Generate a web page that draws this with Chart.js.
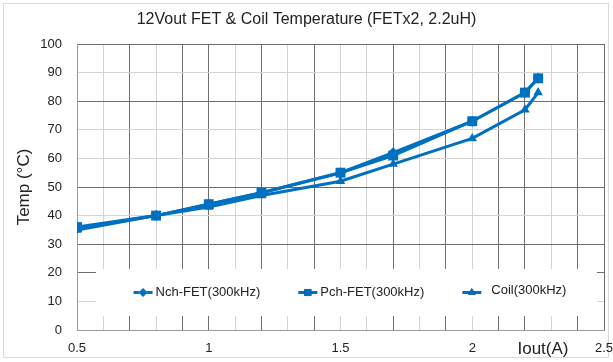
<!DOCTYPE html>
<html>
<head>
<meta charset="utf-8">
<script src="https://cdn.jsdelivr.net/npm/chart.js@4"></script>
<style>
  html, body { margin: 0; padding: 0; background: #fff; }
  #wrap { width: 613px; height: 362px; position: relative; }
</style>
</head>
<body>
<div id="wrap"><canvas id="c"></canvas></div>
<script>
// Iout (A) for every measured point
const iout = [0.5, 0.8, 1.0, 1.2, 1.5, 1.7, 2.0, 2.2, 2.25];
// temperatures (°C)
const nchFet = [35.5, 40, 44, 48, 55, 62, 73, 83, 88];
const pchFet = [36, 40, 44, 48, 55, 61, 73, 83, 88];
const coil = [35, 40, 43, 47, 52, 58, 67, 77, 83];

const seriesNames = ["Nch-FET(300kHz)", "Pch-FET(300kHz)", "Coil(300kHz)"];
const xLabels = ["0.5", "1", "1.5", "2", "2.5"];
const titleText = "12Vout FET & Coil Temperature (FETx2, 2.2uH)";

const blue = "#0070c0";
const dark = "#6e6e6e";
const light = "#d4d4d4";
// the picture's grid lines alternate darker / lighter
const darkX = [7, 9, 10, 12, 14, 17, 19, 21, 22, 24, 25];
const darkY = [20, 30, 50, 80, 100];

function pts(ys) {
  return ys.map((y, i) => ({ x: iout[i], y: y }));
}

const font = "'Liberation Sans', Arial, sans-serif";

const frame = {
  id: "frame",
  beforeDraw(chart) {
    const ctx = chart.ctx;
    ctx.save();
    ctx.fillStyle = "#fff";
    ctx.fillRect(0, 0, chart.width, chart.height);
    ctx.strokeStyle = "#d9d9d9";
    ctx.lineWidth = 1;
    ctx.strokeRect(3.5, 3.5, chart.width - 8, chart.height - 8);
    ctx.restore();
  },
  afterDraw(chart) {
    const ctx = chart.ctx;
    const a = chart.chartArea;
    ctx.save();
    ctx.fillStyle = "#222";
    ctx.textAlign = "center";
    ctx.textBaseline = "middle";
    ctx.font = "16px " + font;
    ctx.fillText(titleText, chart.width / 2, 20);
    ctx.font = "17px " + font;
    ctx.fillText("Iout(A)", a.right - 61, a.bottom + 19);
    ctx.restore();
  }
};

// legend drawn as a white box inside the plot area
const boxLegend = {
  id: "boxLegend",
  beforeDatasetsDraw(chart) {
    const ctx = chart.ctx;
    const a = chart.chartArea;
    const bx = a.left + 19, by = a.bottom - 61;
    const bw = a.right - 7 - bx, bh = 47;
    ctx.save();
    ctx.fillStyle = "#fff";
    ctx.fillRect(bx, by, bw, bh);
    ctx.font = "13px " + font;
    ctx.textBaseline = "middle";
    const sample = 19, gap = 3, between = 38;
    const widths = chart.data.datasets.map(d => sample + gap + ctx.measureText(d.label).width);
    const total = widths.reduce((s, w) => s + w, 0) + between * (widths.length - 1);
    let x = bx + (bw - total) / 2;
    const y = by + bh / 2;
    chart.data.datasets.forEach((d, i) => {
      ctx.strokeStyle = blue;
      ctx.lineWidth = 3;
      ctx.beginPath();
      ctx.moveTo(x, y);
      ctx.lineTo(x + sample, y);
      ctx.stroke();
      Chart.helpers.drawPoint(ctx, {
        pointStyle: d.pointStyle,
        radius: d.pointStyle === "rect" ? 5 : 4.5,
        borderWidth: 0
      }, x + sample / 2, y);
      ctx.fillStyle = blue;
      ctx.fill();
      ctx.fillStyle = "#222";
      ctx.fillText(d.label, x + sample + gap + (i === 2 ? 7 : 0), y - (i === 2 ? 2 : 0));
      x += widths[i] + between;
    });
    ctx.restore();
  }
};

function ds(label, ys, style, r) {
  return {
    label: label,
    data: pts(ys),
    borderColor: blue,
    backgroundColor: blue,
    borderWidth: 3,
    pointStyle: style,
    pointRadius: r,
    pointBorderWidth: 0,
    tension: 0
  };
}

new Chart(document.getElementById("c"), {
  type: "line",
  data: {
    datasets: [
      ds(seriesNames[0], nchFet, "rectRot", 5.5),
      ds(seriesNames[1], pchFet, "rect", 7),
      ds(seriesNames[2], coil, "triangle", 5.5)
    ]
  },
  options: {
    responsive: true,
    maintainAspectRatio: false,
    animation: false,
    layout: { padding: { left: 4, right: 9, top: 44, bottom: 0 } },
    plugins: {
      legend: { display: false },
      tooltip: { enabled: false },
      title: { display: false }
    },
    scales: {
      x: {
        type: "linear",
        min: 0.5,
        max: 2.5,
        afterFit(s) {
          s.height = 32;
          s.paddingLeft = 0;
          s.paddingRight = 0;
        },
        afterBuildTicks(s) {
          s.ticks = [];
          for (let i = 5; i <= 25; i++) s.ticks.push({ value: i / 10 });
        },
        ticks: {
          autoSkip: false,
          maxRotation: 0,
          padding: 11,
          color: "#222",
          font: { family: font, size: 13 },
          callback(v) {
            const k = Math.round(v * 10);
            return k % 5 === 0 ? xLabels[(k - 5) / 5] : "";
          }
        },
        grid: {
          drawTicks: false,
          color(c) {
            if (!c.tick) return light;
            return darkX.includes(Math.round(c.tick.value * 10)) ? dark : light;
          }
        },
        border: { color: "#9a9a9a" }
      },
      y: {
        min: 0,
        max: 100,
        afterFit(s) {
          s.width = 73;
          s.paddingTop = 0;
          s.paddingBottom = 0;
        },
        ticks: {
          stepSize: 10,
          padding: 15,
          color: "#222",
          font: { family: font, size: 13 }
        },
        grid: {
          drawTicks: false,
          color(c) {
            if (!c.tick) return light;
            return darkY.includes(c.tick.value) ? dark : light;
          }
        },
        border: { color: "#9a9a9a" },
        title: {
          display: true,
          text: "Temp (°C)",
          color: "#222",
          font: { family: font, size: 17 },
          padding: { top: 10, bottom: 0 }
        }
      }
    }
  },
  plugins: [frame, boxLegend]
});
</script>
</body>
</html>
